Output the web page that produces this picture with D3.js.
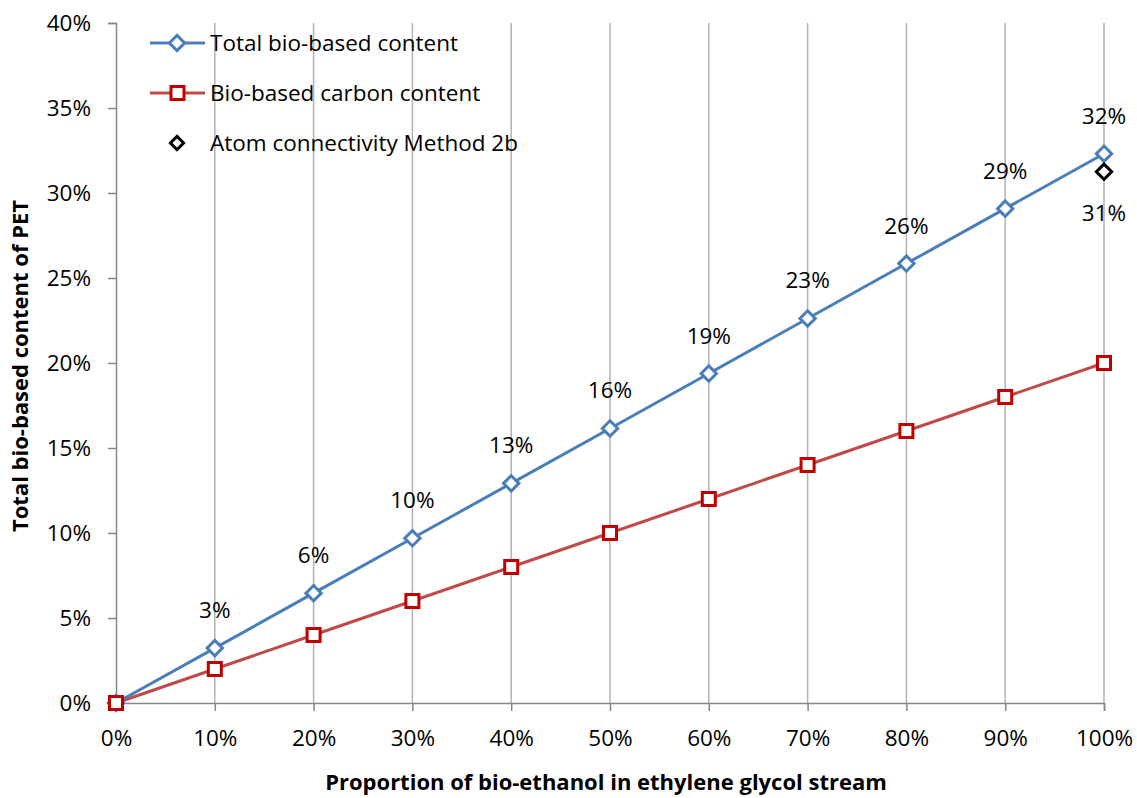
<!DOCTYPE html>
<meta charset="utf-8">
<style>
body { margin: 0; background: #fff; }
text { font-family: 'Open Sans', Lato, sans-serif; fill: #000; }
.axis-title { font-weight: bold; font-size: 22px; }
</style>
<script src="https://d3js.org/d3.v7.min.js"></script>
<div id="chart"></div>
<script>
// data
var xShares = [0, 0.1, 0.2, 0.3, 0.4, 0.5, 0.6, 0.7, 0.8, 0.9, 1.0];
var totalBio = [0, 0.0323, 0.0646, 0.0969, 0.1292, 0.1615, 0.1938, 0.2262, 0.2585, 0.2908, 0.3231];
var bioCarbon = [0, 0.02, 0.04, 0.06, 0.08, 0.10, 0.12, 0.14, 0.16, 0.18, 0.20];
var method2b = [{x: 1.0, y: 0.3125}];
var yTicks = [0, 0.05, 0.10, 0.15, 0.20, 0.25, 0.30, 0.35, 0.40];
var seriesNames = ["Total bio-based content", "Bio-based carbon content", "Atom connectivity Method 2b"];

var W = 1137, H = 798;
var margin = {top: 23, right: 33, bottom: 95, left: 116};
var width = W - margin.left - margin.right,
    height = H - margin.top - margin.bottom;
var fs = "22.5px";

var svg = d3.select("#chart").append("svg")
    .attr("width", W).attr("height", H);
var g = svg.append("g")
    .attr("transform", "translate(" + margin.left + "," + margin.top + ")");

var x = d3.scaleLinear().domain([0, 1]).range([0, width]);
var y = d3.scaleLinear().domain([0, 0.4]).range([height, 0]);
var pct = d3.format(".0%");

// vertical gridlines
g.append("g").selectAll("line")
  .data(xShares.slice(1))
  .enter().append("line")
    .attr("x1", d => x(d)).attr("x2", d => x(d))
    .attr("y1", 0).attr("y2", height)
    .attr("stroke", "#b3b3b3").attr("stroke-width", 1.5);

// axes
var xAxis = g.append("g")
    .attr("transform", "translate(0," + height + ")")
    .call(d3.axisBottom(x).tickValues(xShares).tickFormat(pct).tickSize(8).tickPadding(19));
var yAxis = g.append("g")
    .call(d3.axisLeft(y).tickValues(yTicks).tickFormat(pct).tickSize(8).tickPadding(17));
[xAxis, yAxis].forEach(function(a) {
  a.select(".domain").attr("stroke", "#868686").attr("stroke-width", 1.5);
  a.selectAll(".tick line").attr("stroke", "#868686").attr("stroke-width", 1.5);
  a.selectAll(".tick text").style("font-size", fs)
    .style("font-family", "'Open Sans', Lato, sans-serif").attr("fill", "#000");
});

var line = d3.line().x((d, i) => x(xShares[i])).y(d => y(d));
var diamond = d3.symbol().type(d3.symbolDiamond2).size(150);
var blue = "#4a7ebb", redLine = "#be4b48", redMark = "#c00000";

// carbon content line
g.append("path").datum(bioCarbon)
  .attr("d", line).attr("fill", "none")
  .attr("stroke", redLine).attr("stroke-width", 3);
// total line
g.append("path").datum(totalBio)
  .attr("d", line).attr("fill", "none")
  .attr("stroke", blue).attr("stroke-width", 3);

g.append("g").selectAll("path")
  .data(totalBio).enter().append("path")
    .attr("d", diamond)
    .attr("transform", (d, i) => "translate(" + x(xShares[i]) + "," + y(d) + ")")
    .attr("fill", "#fff").attr("stroke", blue).attr("stroke-width", 3);

g.append("g").selectAll("rect")
  .data(bioCarbon).enter().append("rect")
    .attr("x", (d, i) => x(xShares[i]) - 6.5)
    .attr("y", d => y(d) - 6.5)
    .attr("width", 13).attr("height", 13)
    .attr("fill", "#fff").attr("stroke", redMark).attr("stroke-width", 3);

// method 2b point
g.append("g").selectAll("path")
  .data(method2b).enter().append("path")
    .attr("d", diamond)
    .attr("transform", d => "translate(" + x(d.x) + "," + y(d.y) + ")")
    .attr("fill", "#fff").attr("stroke", "#000").attr("stroke-width", 3);

// data labels
g.append("g").selectAll("text")
  .data(totalBio.slice(1)).enter().append("text")
    .attr("x", (d, i) => x(xShares[i + 1]))
    .attr("y", d => y(d) - 30)
    .attr("text-anchor", "middle")
    .style("font-size", fs)
    .text(d => pct(d));
g.append("g").selectAll("text")
  .data(method2b).enter().append("text")
    .attr("x", d => x(d.x))
    .attr("y", d => y(d.y) + 49)
    .attr("text-anchor", "middle")
    .style("font-size", fs)
    .text(d => pct(d.y));

// legend
var legend = svg.append("g").attr("transform", "translate(150,43)");
var rows = legend.selectAll("g").data(seriesNames).enter().append("g")
    .attr("transform", (d, i) => "translate(0," + i * 50 + ")");
rows.filter((d, i) => i < 2).append("line")
    .attr("x1", 0).attr("x2", 55)
    .attr("stroke", (d, i) => i === 0 ? blue : redLine).attr("stroke-width", 3);
rows.filter((d, i) => i === 0).append("path")
    .attr("d", diamond).attr("transform", "translate(27,0)")
    .attr("fill", "#fff").attr("stroke", blue).attr("stroke-width", 3);
rows.filter((d, i) => i === 1).append("rect")
    .attr("x", 21).attr("y", -6.5).attr("width", 13).attr("height", 13)
    .attr("fill", "#fff").attr("stroke", redMark).attr("stroke-width", 3);
rows.filter((d, i) => i === 2).append("path")
    .attr("d", d3.symbol().type(d3.symbolDiamond2).size(110)).attr("transform", "translate(27,0)")
    .attr("fill", "#fff").attr("stroke", "#000").attr("stroke-width", 3);
rows.append("text")
    .attr("x", 60).attr("dy", "0.35em")
    .style("font-size", fs)
    .text(d => d);

// axis titles
svg.append("text").attr("class", "axis-title")
    .attr("x", margin.left + width / 2 - 4).attr("y", 790)
    .attr("text-anchor", "middle")
    .text("Proportion of bio-ethanol in ethylene glycol stream");
svg.append("text").attr("class", "axis-title")
    .attr("transform", "translate(28," + (margin.top + height / 2 + 3) + ")rotate(-90)")
    .attr("text-anchor", "middle")
    .text("Total bio-based content of PET");
</script>
